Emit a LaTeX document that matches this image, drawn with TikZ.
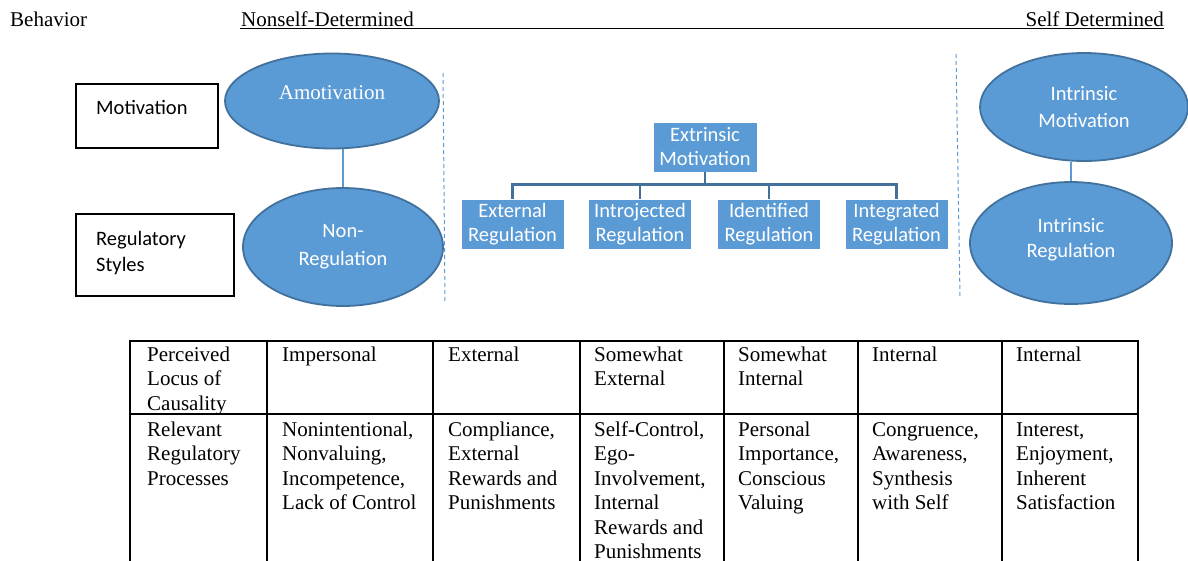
\documentclass[tikz,border=0pt]{standalone}
\usepackage{fontspec}
\setmainfont{Liberation Serif}
\newfontfamily\calfont{Carlito}
\usetikzlibrary{shapes.geometric,calc}
\definecolor{accblue}{HTML}{5B9BD5}
\definecolor{darkblue}{HTML}{41719C}
\newcommand{\tabfont}{\fontsize{21}{24.5}\selectfont}
\newcommand{\calsize}{\calfont\fontsize{20.5}{24}\selectfont}
\begin{document}
\begin{tikzpicture}[x=1pt,y=-1pt,
  hdr/.style={inner sep=0,font=\tabfont},
  labelbox/.style={draw=black,line width=1.8pt,anchor=north west,inner sep=0},
  labeltext/.style={anchor=base west,inner sep=0,font=\calsize,align=left},
  oval/.style={ellipse,draw=darkblue,line width=1.8pt,fill=accblue,inner sep=0},
  ovaltext/.style={text=white,inner sep=0,align=center},
  ovallink/.style={draw=accblue,line width=1.3pt},
  sep/.style={draw=accblue,line width=1pt,dash pattern=on 4pt off 3pt},
  regbox/.style={draw=white,line width=0.8pt,fill=accblue,text=white,inner sep=0,
    minimum width=103pt,minimum height=50pt,align=center,font=\calsize},
  treeline/.style={draw=darkblue,line width=2.5pt},
  grid/.style={draw=black,line width=1.6pt},
  cell/.style={anchor=north west,inner sep=0,align=left,font=\tabfont}]
\useasboundingbox (0,0) rectangle (1188,560);
\clip (0,0) rectangle (1188,560);

% header
\node[hdr,anchor=base west] (behav) at (10,26) {Behavior};
\node[hdr,anchor=base west] (nonself) at (241,26) {Nonself-Determined};
\node[hdr,anchor=base east] (selfdet) at (1164,26) {Self Determined};
\draw[line width=1pt] ($(nonself.base west)+(-1,2.5)$) -- ($(selfdet.base east)+(0,2.5)$);

% left labels
\node[labelbox,minimum width=142pt,minimum height=64pt] (motbox) at (75,83) {};
\node[labeltext] (mottext) at (96,114) {Motivation};
\node[labelbox,minimum width=158pt,minimum height=82pt] (regbox) at (75,213) {};
\node[labeltext,font=\calfont\fontsize{20.5}{26}\selectfont] (regtext) at (96,271) {Regulatory\\Styles};

% amotivation
\node[oval,minimum width=214pt,minimum height=95pt] (amot) at (332,101) {};
\node[ovaltext,font=\fontsize{21}{24}\selectfont,anchor=base] (amottext) at (332,99) {Amotivation};
\node[oval,minimum width=200pt,minimum height=118pt] (nonreg) at (343,247) {};
\node[ovaltext,font=\calfont\fontsize{20.5}{28}\selectfont] (nonregtext) at (343,247) {Non-\\Regulation};
\draw[ovallink] (nonreg.north) -- (nonreg.north |- amot.south);

% separators
\coordinate (s1a) at (443,73);
\coordinate (s1b) at (445,302);
\coordinate (s2a) at (956,54);
\coordinate (s2b) at (960,297);
\draw[sep] (s1a) -- (s1b);
\draw[sep] (s2a) -- (s2b);

% extrinsic tree
\node[regbox,minimum width=104pt] (extr) at (705,147) {Extrinsic\\Motivation};
\node[regbox] (c1) at (512.5,224) {External\\Regulation};
\node[regbox] (c2) at (640,224) {Introjected\\Regulation};
\node[regbox] (c3) at (769,224) {Identified\\Regulation};
\node[regbox] (c4) at (896.5,224) {Integrated\\Regulation};
\coordinate (bar) at (705,184.5);
\draw[treeline] (extr.south) -- (extr.south |- bar);
\draw[treeline] (c1.north) -- (c1.north |- bar) -- (c4.north |- bar) -- (c4.north);
\draw[treeline] (c2.north) -- (c2.north |- bar);
\draw[treeline] (c3.north) -- (c3.north |- bar);

% intrinsic
\node[oval,minimum width=208pt,minimum height=108pt] (intmot) at (1084,107) {};
\node[ovaltext,font=\calfont\fontsize{20.5}{27}\selectfont] (intmottext) at (1084,107) {Intrinsic\\Motivation};
\node[oval,minimum width=202pt,minimum height=122pt] (intreg) at (1071,243) {};
\node[ovaltext,font=\calfont\fontsize{20.5}{25}\selectfont] (intregtext) at (1071,240) {Intrinsic\\Regulation};
\draw[ovallink] (intreg.north) -- (intreg.north |- intmot.south);

% table grid
\draw[grid] (130,341) -- (1138,341);
\draw[grid] (130,414) -- (1138,414);
\foreach \xx in {130,267,433,580,724,858,1002,1138}
  \draw[grid] (\xx,340.2) -- (\xx,575);

% table text
\node[cell] (r1c1) at (147,343.85) {\strut Perceived\\Locus of\\Causality};
\node[cell] (r1c2) at (282,343.85) {\strut Impersonal};
\node[cell] (r1c3) at (448,343.85) {\strut External};
\node[cell] (r1c4) at (594,343.85) {\strut Somewhat\\External};
\node[cell] (r1c5) at (738,343.85) {\strut Somewhat\\Internal};
\node[cell] (r1c6) at (872,343.85) {\strut Internal};
\node[cell] (r1c7) at (1016,343.85) {\strut Internal};

\node[cell] (r2c1) at (147,418.85) {\strut Relevant\\Regulatory\\Processes};
\node[cell] (r2c2) at (282,418.85) {\strut Nonintentional,\\Nonvaluing,\\Incompetence,\\Lack of Control};
\node[cell] (r2c3) at (448,418.85) {\strut Compliance,\\External\\Rewards and\\Punishments};
\node[cell] (r2c4) at (594,418.85) {\strut Self-Control,\\Ego-\\Involvement,\\Internal\\Rewards and\\Punishments};
\node[cell] (r2c5) at (738,418.85) {\strut Personal\\Importance,\\Conscious\\Valuing};
\node[cell] (r2c6) at (872,418.85) {\strut Congruence,\\Awareness,\\Synthesis\\with Self};
\node[cell] (r2c7) at (1016,418.85) {\strut Interest,\\Enjoyment,\\Inherent\\Satisfaction};
\end{tikzpicture}
\end{document}
